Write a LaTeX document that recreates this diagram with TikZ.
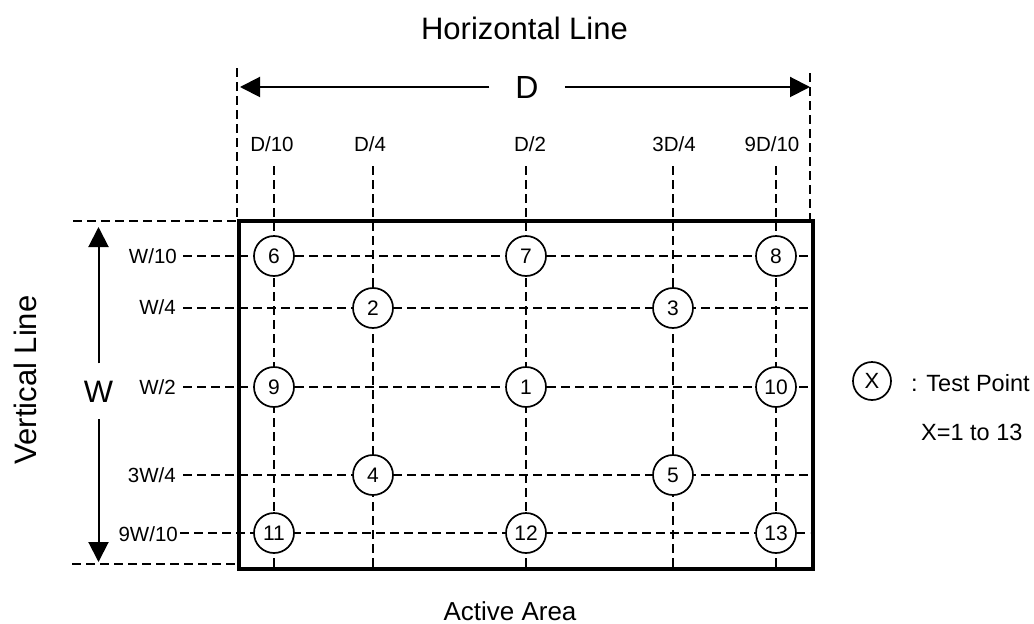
\documentclass[tikz,border=0pt]{standalone}
\usepackage{fontspec}
\setmainfont{Liberation Sans}
\usetikzlibrary{arrows.meta}
\begin{document}
\begin{tikzpicture}[x=1pt,y=-1pt,
  grid/.style={line width=1.6pt, dash pattern=on 9pt off 5pt},
  ext/.style={line width=1.6pt, dash pattern=on 9pt off 5pt},
  tp/.style={circle, draw, line width=1.7pt, fill=white, minimum size=40pt, inner sep=0pt, font=\fontsize{21}{24}\selectfont},
  lab/.style={inner sep=0pt, anchor=base, font=\fontsize{20.5}{24}\selectfont},
  big/.style={inner sep=0pt, anchor=base, font=\fontsize{31}{36}\selectfont},
  dimarrow/.style={line width=2pt, -{Triangle[length=20pt,width=20pt]}}]
\useasboundingbox (0,0) rectangle (1034,624);
% grid lines
\foreach \n/\x in {1/274,2/373,3/526,4/673,5/776} {
  \coordinate (ct\n) at (\x,166);
  \coordinate (cb\n) at (\x,567);
  \draw[grid] (ct\n) -- (cb\n);
}
\foreach \n/\y/\s in {1/256/183,2/308/183,3/387/183,4/475/183,5/533/180} {
  \coordinate (rl\n) at (\s,\y);
  \coordinate (rr\n) at (810,\y);
  \draw[grid] (rl\n) -- (rr\n);
}
% active area
\node[draw, line width=4pt, minimum width=574pt, minimum height=348pt, inner sep=0pt, anchor=north west] (area) at (237,219) {};
% extension lines
\coordinate (el) at (237,68);
\coordinate (er) at (810,73);
\coordinate (et) at (73,221);
\coordinate (eb) at (72,564);
\draw[ext] (el) -- (area.north west);
\draw[ext] (er) -- (er |- area.north);
\draw[ext] (et) -- (et -| area.west);
\draw[ext] (eb) -- (eb -| area.west);
% test points
\node[tp] (p6) at (274,256) {6};
\node[tp] (p7) at (526,256) {7};
\node[tp] (p8) at (776,256) {8};
\node[tp] (p2) at (373,308) {2};
\node[tp] (p3) at (673,308) {3};
\node[tp] (p9) at (274,387) {9};
\node[tp] (p1) at (526,387) {1};
\node[tp] (p10) at (776,387) {10};
\node[tp] (p4) at (373,475) {4};
\node[tp] (p5) at (673,475) {5};
\node[tp] (p11) at (274,533) {11};
\node[tp] (p12) at (526,533) {12};
\node[tp] (p13) at (776,533) {13};
% column labels
\node[lab] (lc1) at (272,151) {D/10};
\node[lab] (lc2) at (370,151) {D/4};
\node[lab] (lc3) at (530,151) {D/2};
\node[lab] (lc4) at (674,151) {3D/4};
\node[lab] (lc5) at (772,151) {9D/10};
% row labels
\node[lab, anchor=base east] (lr1) at (177,263) {W/10};
\node[lab, anchor=base east] (lr2) at (176,314) {W/4};
\node[lab, anchor=base east] (lr3) at (176,394.5) {W/2};
\node[lab, anchor=base east] (lr4) at (176,482) {3W/4};
\node[lab, anchor=base east] (lr5) at (178,541) {9W/10};
% D dimension
\node[big, font=\fontsize{32}{36}\selectfont, inner xsep=26pt] (D) at (527,98) {D};
\coordinate (Dl) at (240,87);
\coordinate (Dr) at (810,87);
\draw[dimarrow] (D.west) -- (D.west -| Dl);
\draw[dimarrow] (D.east) -- (D.east -| Dr);
\node[big] (hl) at (524.5,39) {Horizontal Line};
% W dimension
\node[big, inner ysep=17pt] (W) at (98.5,402) {W};
\coordinate (Wt) at (98.5,227);
\coordinate (Wb) at (98.5,562);
\draw[dimarrow] (W.north) -- (Wt);
\draw[dimarrow] (W.south) -- (Wb);
\node[big, rotate=90] (vl) at (36,380) {Vertical Line};
% active area label
\node[inner sep=0pt, anchor=base, font=\fontsize{26}{30}\selectfont] (aa) at (510,620) {Active Area};
% legend
\node[tp, minimum size=38pt, font=\fontsize{22}{24}\selectfont] (px) at (872,381) {X};
\node[inner sep=0pt, anchor=base west, font=\fontsize{23.5}{28}\selectfont] (tpl) at (911,391) {: Test Point};
\node[inner sep=0pt, anchor=base west, font=\fontsize{23.5}{28}\selectfont] (xr) at (921,440) {X=1 to 13};
\end{tikzpicture}
\end{document}
